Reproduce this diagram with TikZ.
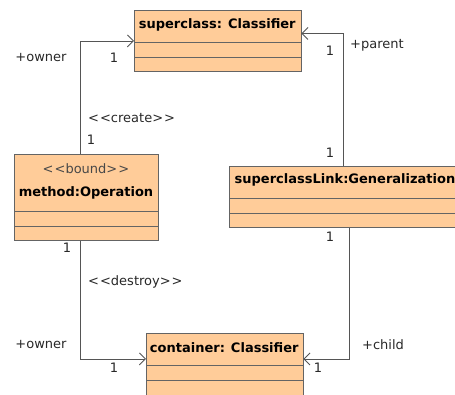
\documentclass[tikz,border=0pt]{standalone}
\usepackage{fontspec}
\setmainfont{DejaVu Sans}
\usetikzlibrary{arrows.meta}
\definecolor{classfill}{RGB}{255,204,153}
\definecolor{edgegray}{RGB}{100,100,100}
\definecolor{wire}{RGB}{85,85,85}
\definecolor{ink}{RGB}{40,40,40}
\newcommand{\lgl}{<\kern1pt<}
\newcommand{\rgl}{>\kern1pt>}
\tikzset{
  classbox/.style={draw=edgegray, fill=classfill, line width=0.9pt, inner sep=0pt, anchor=north west},
  divider/.style={draw=edgegray, line width=0.9pt},
  title/.style={font=\fontsize{13}{15}\selectfont\bfseries, text=black, inner sep=0pt},
  stereo/.style={font=\fontsize{13}{15}\selectfont, text=ink!85, inner sep=0pt},
  lbl/.style={font=\fontsize{13}{15}\selectfont, text=ink, inner sep=0pt},
  assoc/.style={draw=wire, line width=0.9pt, -{Straight Barb[length=6pt,width=12pt]}},
}
\begin{document}
\begin{tikzpicture}[x=1pt,y=-1pt]
\useasboundingbox (0,0) rectangle (455,394);
\clip (0,0) rectangle (455,394);

% class boxes
\node[classbox, minimum width=166.5pt, minimum height=61pt] (sup) at (134,10) {};
\node[classbox, minimum width=144pt, minimum height=86pt] (meth) at (14,154) {};
\node[classbox, minimum width=232pt, minimum height=61pt] (link) at (229,166) {};
\node[classbox, minimum width=156.5pt, minimum height=70pt] (cont) at (146,333) {};

% compartments
\foreach \n/\a/\b in {sup/32/47, meth/57/72, link/32/47, cont/32.5/47}{
  \draw[divider] ([yshift=-\a pt]\n.north west) -- ([yshift=-\a pt]\n.north east);
  \draw[divider] ([yshift=-\b pt]\n.north west) -- ([yshift=-\b pt]\n.north east);
}

% titles
\node[title] (supT) at (217.25,25) {superclass: Classifier};
\node[stereo] (methS) at (86,169) {\lgl bound\rgl};
\node[title] (methT) at (86,193) {method:Operation};
\node[title] (linkT) at (345,180) {superclassLink:Generalization};
\node[title] (contT) at (224.25,348) {container: Classifier};

% associations
\draw[assoc] ([xshift=-6pt]meth.north) |- (sup.west);
\draw[assoc] ([xshift=-1.7pt]link.north) |- ([yshift=7.5pt]sup.east);
\draw[assoc] ([xshift=-6pt]meth.south) |- ([yshift=9.5pt]cont.west);
\draw[assoc] ([xshift=4pt]link.south) |- ([yshift=9.5pt]cont.east);

% role names, multiplicities and stereotypes
\node[lbl] (o1) at (41,58) {+owner};
\node[lbl] (m1) at (114,58) {1};
\node[lbl, anchor=west] (cr) at (88,118) {\lgl create\rgl};
\node[lbl] (m2) at (91,140) {1};
\node[lbl] (m3) at (67,248) {1};
\node[lbl, anchor=west] (de) at (88,282) {\lgl destroy\rgl};
\node[lbl] (o2) at (41,345) {+owner};
\node[lbl] (m4) at (114,368) {1};
\node[lbl, anchor=west] (ch) at (362,345) {+child};
\node[lbl] (m5) at (318,368) {1};
\node[lbl, anchor=west] (pa) at (350,45) {+parent};
\node[lbl] (m6) at (330,51) {1};
\node[lbl] (m7) at (330,153) {1};
\node[lbl] (m8) at (330,237) {1};
\end{tikzpicture}
\end{document}
